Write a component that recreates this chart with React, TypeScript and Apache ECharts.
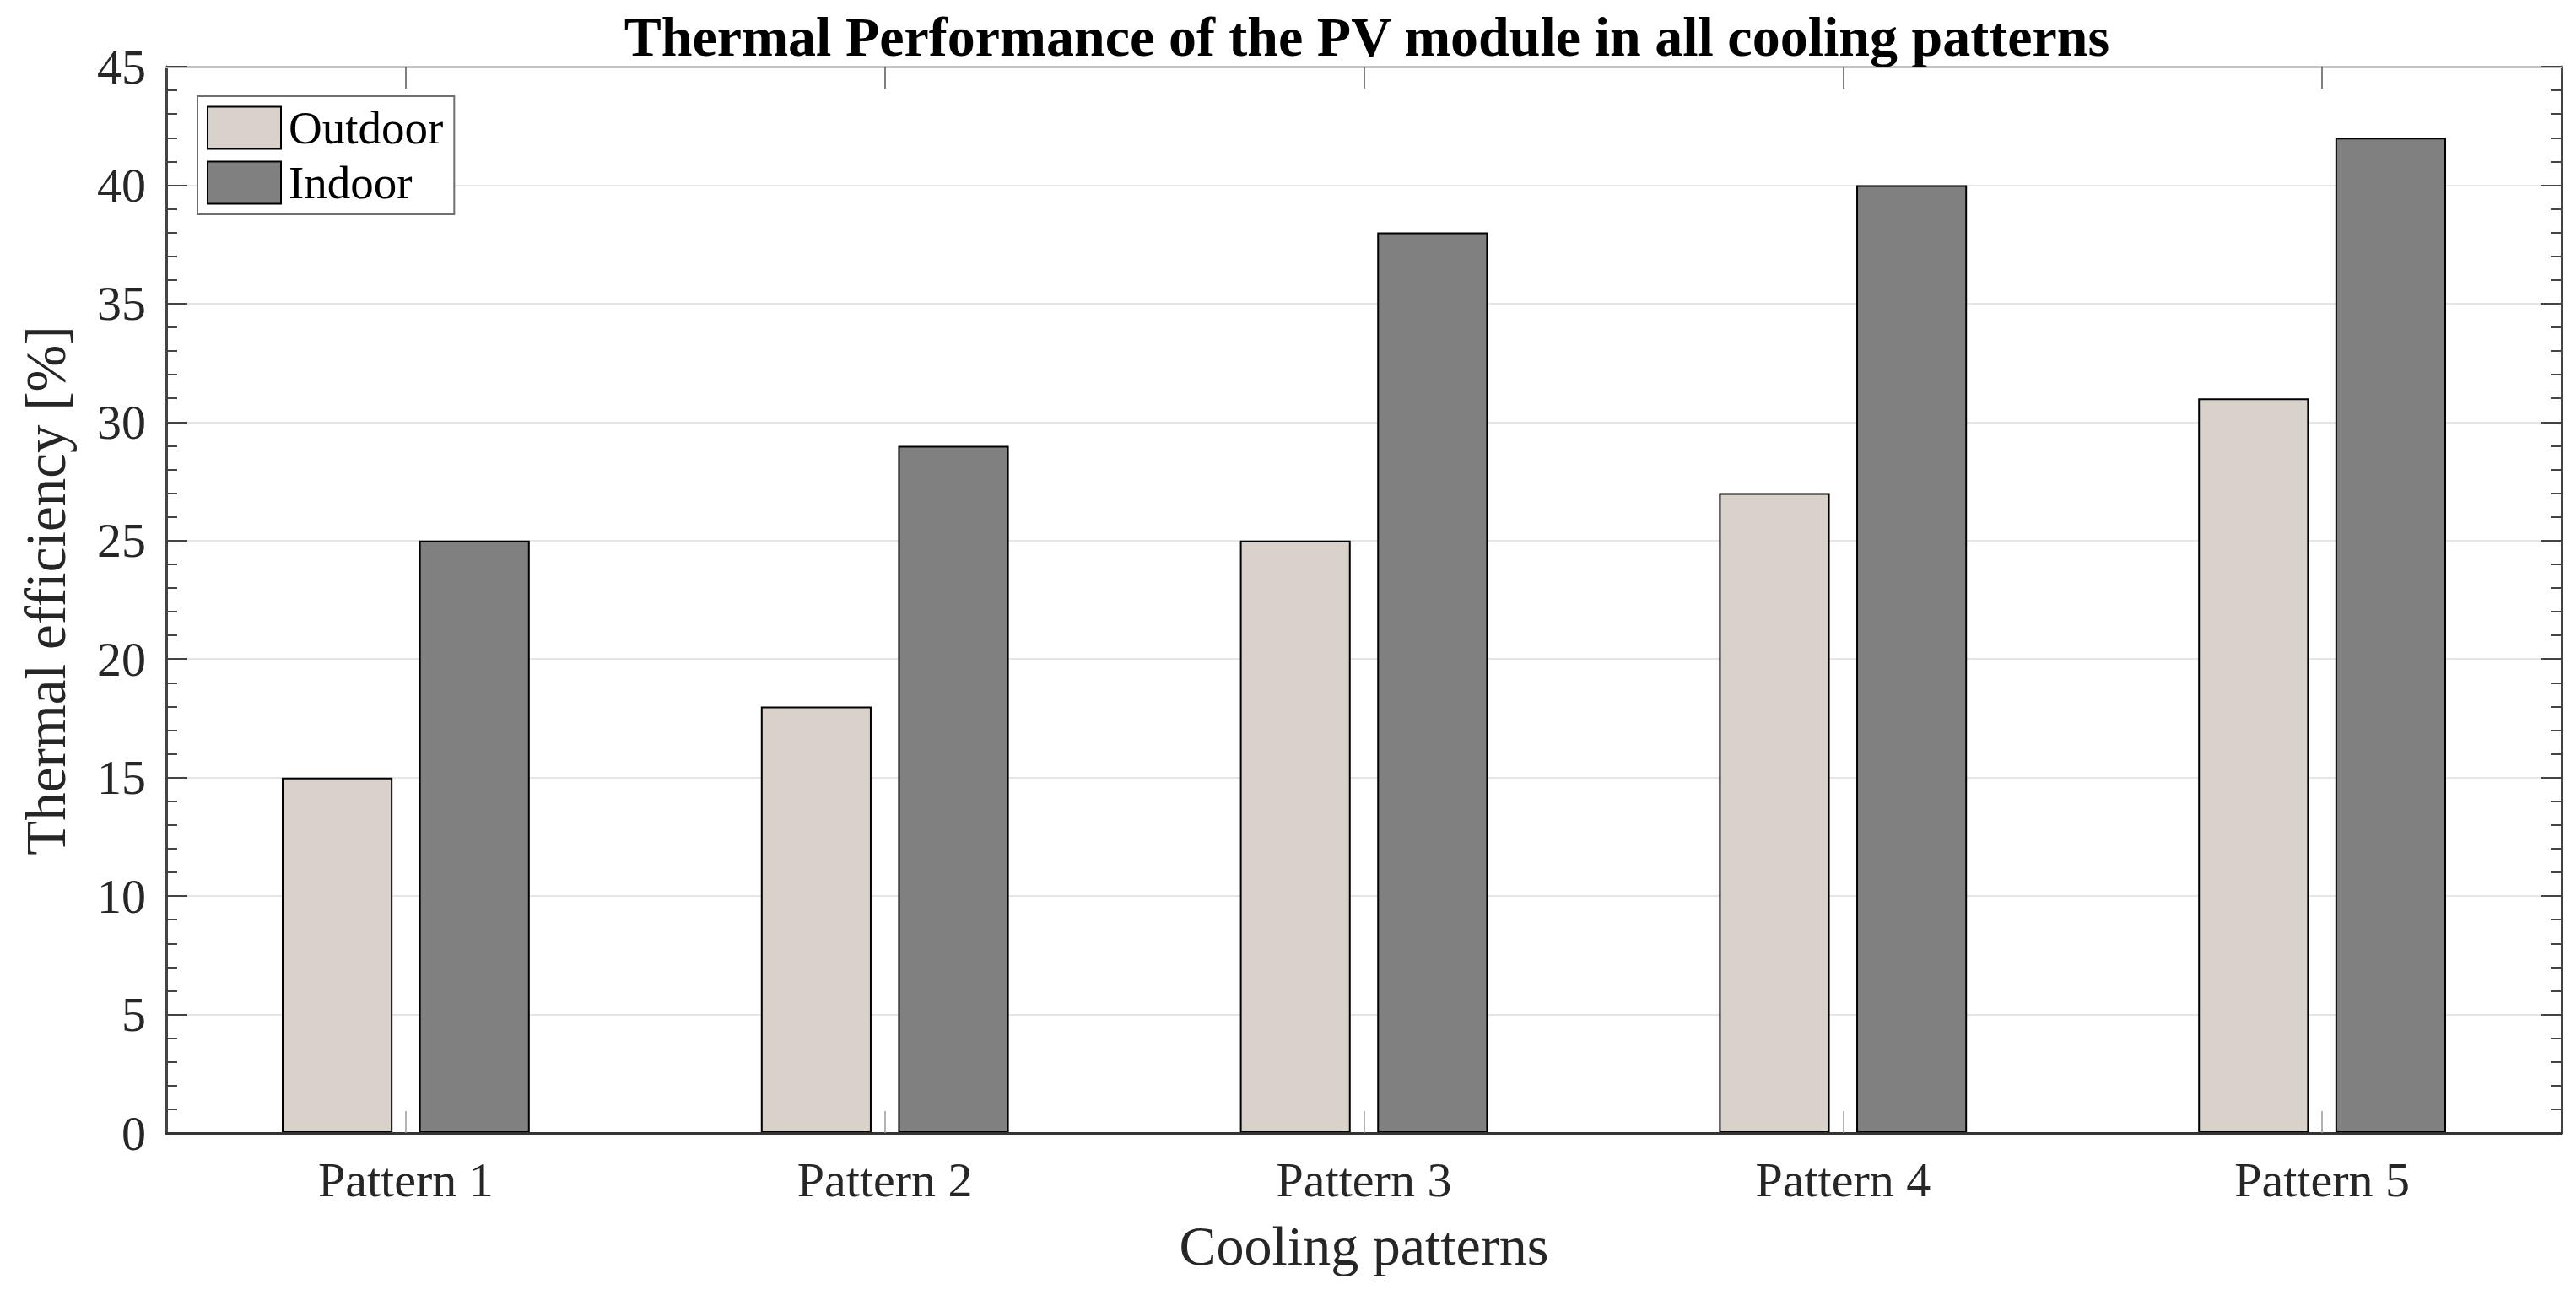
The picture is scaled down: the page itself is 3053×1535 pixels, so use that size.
import React, { useEffect, useRef } from "react";
import * as echarts from "echarts";

const categories = ["Pattern 1", "Pattern 2", "Pattern 3", "Pattern 4", "Pattern 5"];
const outdoorValues = [15, 18, 25, 27, 31];
const indoorValues = [25, 29, 38, 40, 42];
const seriesNames = ["Outdoor", "Indoor"];
const titleText = "Thermal Performance of the PV module in all cooling patterns";
const xAxisName = "Cooling patterns";
const yAxisName = "Thermal efficiency [%]";

const FONT = '"Liberation Serif", "Times New Roman", serif';
const TEXT = "#262626";

export default function App() {
  const ref = useRef<HTMLDivElement>(null);
  useEffect(() => {
    if (!ref.current) return;
    const chart = echarts.init(ref.current, undefined, { renderer: "svg" });
    chart.setOption({
      animation: false,
      backgroundColor: "#fff",
      title: {
        text: titleText,
        left: 1620,
        top: 10,
        padding: 0,
        textAlign: "center",
        textStyle: { fontFamily: FONT, fontSize: 66, fontWeight: "bold", color: "#000" },
      },
      legend: {
        orient: "vertical",
        left: 234,
        top: 114,
        padding: [10, 13, 10, 11],
        itemGap: 10,
        itemWidth: 87,
        itemHeight: 50,
        icon: "rect",
        backgroundColor: "#fff",
        borderColor: "#6e6e6e",
        borderWidth: 2,
        borderRadius: 0,
        data: seriesNames,
        textStyle: { fontFamily: FONT, fontSize: 55, color: "#000", padding: [0, 0, 0, 4] },
      },
      grid: { left: 197, right: 17, top: 79, bottom: 192, containLabel: false },
      xAxis: [
        {
          type: "category",
          data: categories,
          position: "bottom",
          axisLine: { show: true, onZero: false, lineStyle: { color: "#333", width: 3 } },
          axisTick: { show: true, alignWithLabel: true, inside: true, length: 26, lineStyle: { color: "#9a9a9a", width: 1.5 } },
          axisLabel: { margin: 26, fontFamily: FONT, fontSize: 58, color: TEXT },
          splitLine: { show: false },
          name: xAxisName,
          nameLocation: "middle",
          nameGap: 100,
          nameTextStyle: { fontFamily: FONT, fontSize: 66, color: TEXT },
          z: 3,
        },
        {
          type: "category",
          data: categories,
          position: "top",
          axisLine: { show: true, onZero: false, lineStyle: { color: "#c4c4c4", width: 3 } },
          axisTick: { show: true, alignWithLabel: true, inside: true, length: 26, lineStyle: { color: "#555", width: 1.5 } },
          axisLabel: { show: false },
          splitLine: { show: false },
        },
      ],
      yAxis: [
        {
          type: "value",
          min: 0,
          max: 45,
          interval: 5,
          position: "left",
          axisLine: { show: true, onZero: false, lineStyle: { color: "#444", width: 3 } },
          axisTick: { show: true, inside: true, length: 25, lineStyle: { color: "#444", width: 2 } },
          minorTick: { show: true, splitNumber: 5, length: 13, lineStyle: { color: "#444", width: 2 } },
          splitLine: { show: true, lineStyle: { color: "#e6e6e6", width: 2 } },
          axisLabel: { margin: 24, fontFamily: FONT, fontSize: 58, color: TEXT },
          name: yAxisName,
          nameLocation: "middle",
          nameGap: 110,
          nameRotate: 90,
          nameTextStyle: { fontFamily: FONT, fontSize: 67, color: TEXT, padding: [0, 0, 0, 22] },
        },
        {
          type: "value",
          min: 0,
          max: 45,
          interval: 5,
          position: "right",
          axisLine: { show: true, onZero: false, lineStyle: { color: "#444", width: 3 } },
          axisTick: { show: true, inside: true, length: 25, lineStyle: { color: "#444", width: 2 } },
          minorTick: { show: true, splitNumber: 5, length: 13, lineStyle: { color: "#444", width: 2 } },
          splitLine: { show: false },
          axisLabel: { show: false },
        },
      ],
      series: [
        {
          name: seriesNames[0],
          type: "bar",
          data: outdoorValues,
          barWidth: "23.1%",
          barGap: "24%",
          itemStyle: { color: "#d9d2cb", borderColor: "#000", borderWidth: 2 },
        },
        {
          name: seriesNames[1],
          type: "bar",
          data: indoorValues,
          barWidth: "23.1%",
          barGap: "24%",
          itemStyle: { color: "#808080", borderColor: "#000", borderWidth: 2 },
        },
      ],
    });
    return () => chart.dispose();
  }, []);
  return (
    <div
      ref={ref}
      style={{ position: "fixed", left: 0, top: 0, width: 3053, height: 1535, background: "#fff" }}
    />
  );
}
